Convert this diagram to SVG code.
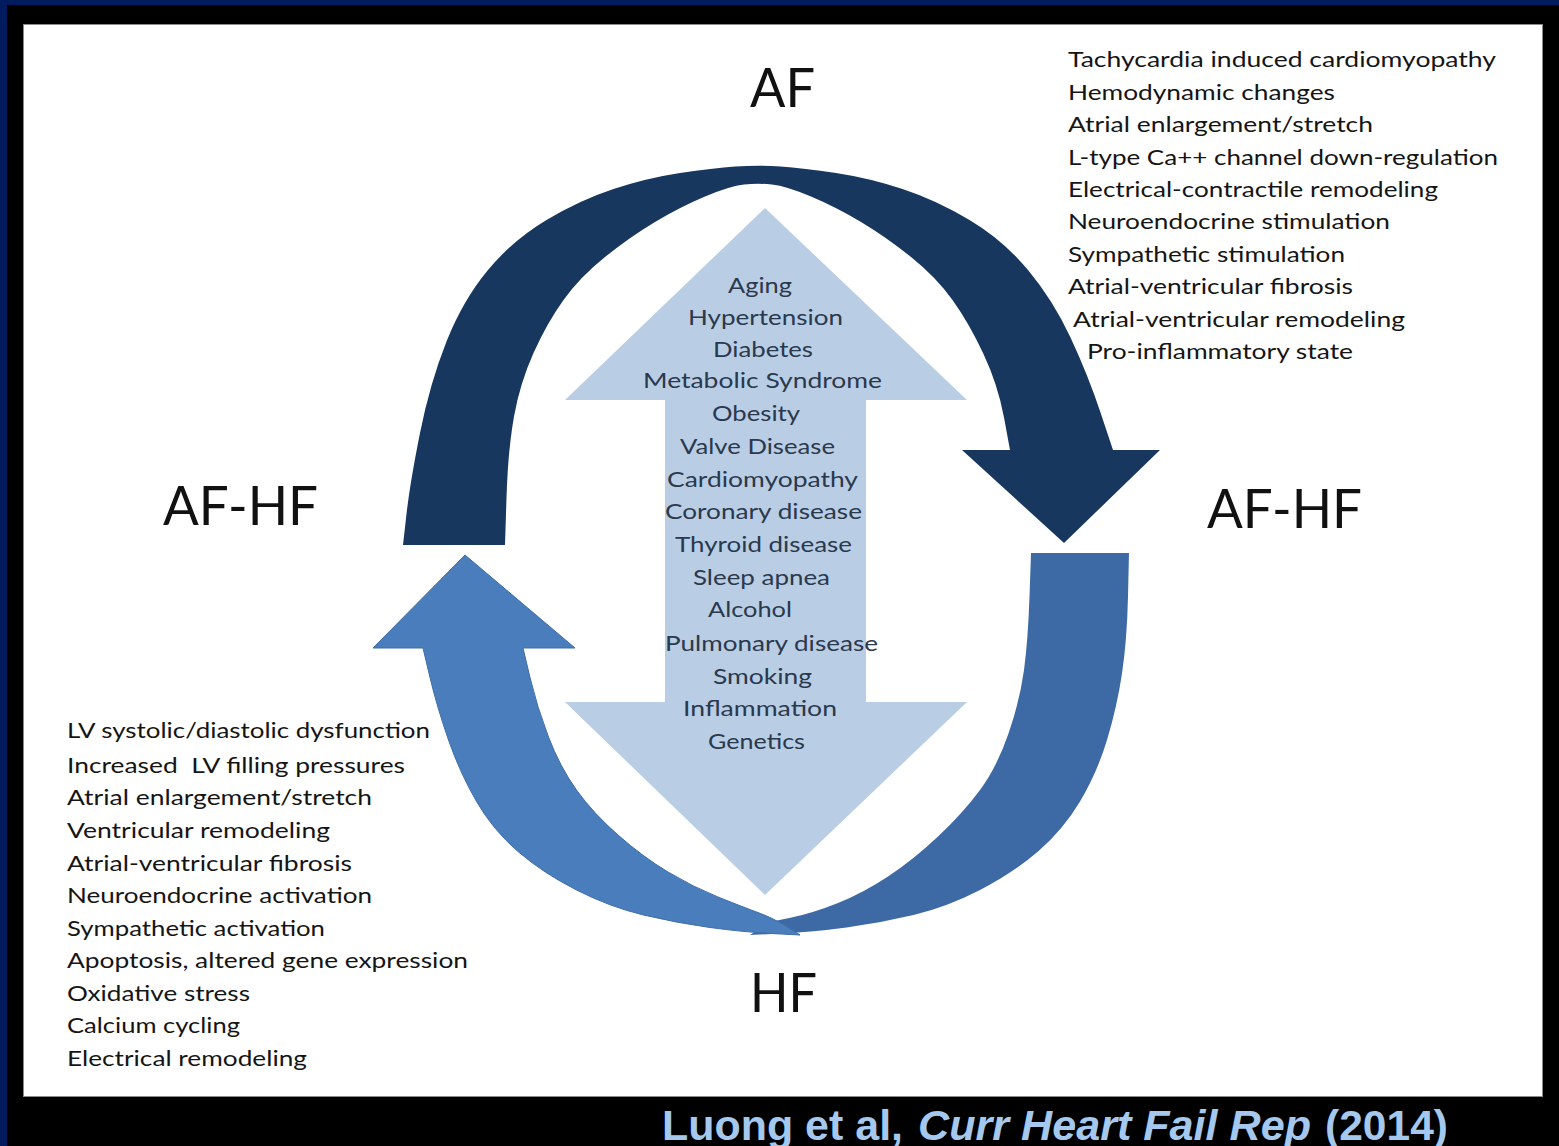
<svg xmlns="http://www.w3.org/2000/svg" width="1559" height="1146" viewBox="0 0 1559 1146">
  <style>
    .big { font-family: Lato, "Open Sans", "Liberation Sans", sans-serif; font-size: 54px; fill: #111; }
    .lst { font-family: Lato, "Open Sans", "Liberation Sans", sans-serif; font-size: 22px; fill: #151515; }
    .risk { font-family: Lato, "Open Sans", "Liberation Sans", sans-serif; font-size: 22px; fill: #2a394c; }
    .cite { font-family: "Liberation Sans", Arial, sans-serif; font-size: 42px; font-weight: bold; fill: #a4c8ee; }
  </style>
  <!-- background frame -->
  <rect x="0" y="0" width="1559" height="1146" fill="#000"/>
  <rect x="0" y="0" width="1559" height="5" fill="#001b5e"/>
  <rect x="0" y="0" width="7" height="1146" fill="#001b5e"/>
  <rect x="23.5" y="24.5" width="1519" height="1072" fill="#fff" stroke="#8a8a8a" stroke-width="1"/>

  <g id="connectors">
    <path id="arrow-risk-factors" fill="#b9cde5" d="M765,208 L967,400 L866,400 L866,702 L967,702 L765,895 L565,702 L665,702 L665,400 L565,400 Z"/>
    <path id="arrow-af-to-afhf" fill="#17375e" d="M403,545 L406.5,514 Q410,483 420,433 Q430,383 446.5,341.5 Q463,300 488,270 Q513,240 546.5,220 Q580,200 613.5,189 Q647,178 680,173 Q713,168 735.5,166.5 Q758,165 780.5,166.5 Q803,168 836,173 Q869,178 902.5,189 Q936,200 969.5,220 Q1003,240 1028,270 Q1053,300 1070.5,337.5 Q1088,375 1100.5,412.5 L1113,450 L1160,450 L1064,543 L962,450 L1010,450 L1004,417.5 Q998,385 983.5,354 Q969,323 952.5,300 Q936,277 911,257 Q886,237 861,222 Q836,207 811,196.5 Q786,186 772,184.5 Q758,183 744,184.5 Q730,186 705,196.5 Q680,207 655,222 Q630,237 605,257 Q580,277 563.5,300 Q547,323 533.5,353 Q520,383 514,416.5 Q508,450 506.5,497.5 L505,545 Z"/>
    <path id="arrow-hf-back" fill="#3d6aa4" d="M1031,553 L1129,553 L1128,596.5 Q1127,640 1122,673.5 Q1117,707 1107,740 Q1097,773 1080,801.5 Q1063,830 1038,851.5 Q1013,873 980,890 Q947,907 913.5,915 Q880,923 846.5,927.5 Q813,932 781.5,933.5 L750,935 L770,922 L791.5,917.5 Q813,913 838,903 Q863,893 888,876.5 Q913,860 938,836.5 Q963,813 980,790 Q997,767 1008.5,733.5 Q1020,700 1024,670 Q1028,640 1029.5,596.5 L1031,553 Z"/>
    <path id="arrow-hf-to-afhf" fill="#4a7dbb" stroke="#3f6ea8" stroke-width="1" d="M800,935 L771.5,933.5 Q743,932 710,927.5 Q677,923 643.5,915 Q610,907 576.5,890 Q543,873 518,851.5 Q493,830 476.5,801.5 Q460,773 448.5,740 Q437,707 430,677.5 L423,648 L373,648 L465,555 L575,648 L523,648 L530,677.5 Q537,707 548.5,737 Q560,767 576.5,790 Q593,813 618,835 Q643,857 668,872 Q693,887 718,897 Q743,907 760.5,913.5 Q778,920 800,935 Z"/>
  </g>

  <g id="node-af"><text class="big" x="750" y="107" textLength="65" lengthAdjust="spacingAndGlyphs">AF</text></g>
  <g id="node-afhf-left"><text class="big" x="163" y="525" textLength="155" lengthAdjust="spacingAndGlyphs">AF-HF</text></g>
  <g id="node-afhf-right"><text class="big" x="1207" y="528" textLength="155" lengthAdjust="spacingAndGlyphs">AF-HF</text></g>
  <g id="node-hf"><text class="big" x="750" y="1012" textLength="67" lengthAdjust="spacingAndGlyphs">HF</text></g>

  <g id="list-af-mechanisms" class="lst">
    <text class="lst" x="1068" y="67" textLength="428" lengthAdjust="spacingAndGlyphs">Tachycardia induced cardiomyopathy</text>
    <text class="lst" x="1068" y="100" textLength="267" lengthAdjust="spacingAndGlyphs">Hemodynamic changes</text>
    <text class="lst" x="1068" y="132" textLength="305" lengthAdjust="spacingAndGlyphs">Atrial enlargement/stretch</text>
    <text class="lst" x="1068" y="165" textLength="430" lengthAdjust="spacingAndGlyphs">L-type Ca++ channel down-regulation</text>
    <text class="lst" x="1068" y="197" textLength="370" lengthAdjust="spacingAndGlyphs">Electrical-contractile remodeling</text>
    <text class="lst" x="1068" y="229" textLength="322" lengthAdjust="spacingAndGlyphs">Neuroendocrine stimulation</text>
    <text class="lst" x="1068" y="262" textLength="277" lengthAdjust="spacingAndGlyphs">Sympathetic stimulation</text>
    <text class="lst" x="1068" y="294" textLength="285" lengthAdjust="spacingAndGlyphs">Atrial-ventricular fibrosis</text>
    <text class="lst" x="1073" y="327" textLength="332" lengthAdjust="spacingAndGlyphs">Atrial-ventricular remodeling</text>
    <text class="lst" x="1087" y="359" textLength="266" lengthAdjust="spacingAndGlyphs">Pro-inflammatory state</text>
  </g>

  <g id="list-hf-mechanisms">
    <text class="lst" x="67" y="738" textLength="363" lengthAdjust="spacingAndGlyphs">LV systolic/diastolic dysfunction</text>
    <text class="lst" x="67" y="773" textLength="338" lengthAdjust="spacingAndGlyphs" xml:space="preserve">Increased  LV filling pressures</text>
    <text class="lst" x="67" y="805" textLength="305" lengthAdjust="spacingAndGlyphs">Atrial enlargement/stretch</text>
    <text class="lst" x="67" y="838" textLength="263" lengthAdjust="spacingAndGlyphs">Ventricular remodeling</text>
    <text class="lst" x="67" y="871" textLength="285" lengthAdjust="spacingAndGlyphs">Atrial-ventricular fibrosis</text>
    <text class="lst" x="67" y="903" textLength="305" lengthAdjust="spacingAndGlyphs">Neuroendocrine activation</text>
    <text class="lst" x="67" y="936" textLength="258" lengthAdjust="spacingAndGlyphs">Sympathetic activation</text>
    <text class="lst" x="67" y="968" textLength="401" lengthAdjust="spacingAndGlyphs">Apoptosis, altered gene expression</text>
    <text class="lst" x="67" y="1001" textLength="183" lengthAdjust="spacingAndGlyphs">Oxidative stress</text>
    <text class="lst" x="67" y="1033" textLength="173" lengthAdjust="spacingAndGlyphs">Calcium cycling</text>
    <text class="lst" x="67" y="1066" textLength="240" lengthAdjust="spacingAndGlyphs">Electrical remodeling</text>
  </g>

  <g id="list-risk-factors">
    <text class="risk" x="728" y="293" textLength="64" lengthAdjust="spacingAndGlyphs">Aging</text>
    <text class="risk" x="688" y="325" textLength="155" lengthAdjust="spacingAndGlyphs">Hypertension</text>
    <text class="risk" x="713" y="357" textLength="100" lengthAdjust="spacingAndGlyphs">Diabetes</text>
    <text class="risk" x="643" y="388" textLength="239" lengthAdjust="spacingAndGlyphs">Metabolic Syndrome</text>
    <text class="risk" x="712" y="421" textLength="88" lengthAdjust="spacingAndGlyphs">Obesity</text>
    <text class="risk" x="680" y="454" textLength="155" lengthAdjust="spacingAndGlyphs">Valve Disease</text>
    <text class="risk" x="667" y="487" textLength="191" lengthAdjust="spacingAndGlyphs">Cardiomyopathy</text>
    <text class="risk" x="665" y="519" textLength="197" lengthAdjust="spacingAndGlyphs">Coronary disease</text>
    <text class="risk" x="675" y="552" textLength="177" lengthAdjust="spacingAndGlyphs">Thyroid disease</text>
    <text class="risk" x="693" y="585" textLength="137" lengthAdjust="spacingAndGlyphs">Sleep apnea</text>
    <text class="risk" x="708" y="617" textLength="84" lengthAdjust="spacingAndGlyphs">Alcohol</text>
    <text class="risk" x="665" y="651" textLength="213" lengthAdjust="spacingAndGlyphs">Pulmonary disease</text>
    <text class="risk" x="713" y="684" textLength="99" lengthAdjust="spacingAndGlyphs">Smoking</text>
    <text class="risk" x="683" y="716" textLength="154" lengthAdjust="spacingAndGlyphs">Inflammation</text>
    <text class="risk" x="708" y="749" textLength="97" lengthAdjust="spacingAndGlyphs">Genetics</text>
  </g>

  <g id="citation">
    <text class="cite" x="662" y="1140" textLength="241" lengthAdjust="spacingAndGlyphs">Luong et al,</text>
    <text class="cite" x="918" y="1140" textLength="393" lengthAdjust="spacingAndGlyphs" font-style="italic">Curr Heart Fail Rep</text>
    <text class="cite" x="1325" y="1140" textLength="123" lengthAdjust="spacingAndGlyphs">(2014)</text>
  </g>
</svg>
